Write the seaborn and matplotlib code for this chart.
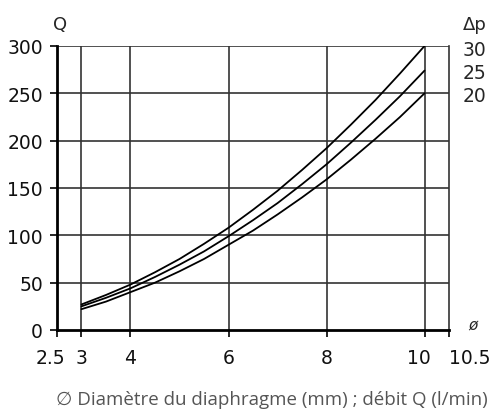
import pandas as pd
import matplotlib.pyplot as plt
import matplotlib.transforms as mtransforms
import seaborn as sns

diameter = [3, 3.5, 4, 4.5, 5, 5.5, 6, 6.5, 7, 7.5, 8, 8.5, 9, 9.5, 10]
q_dp30 = [27, 37, 48, 61, 75, 91, 108, 127, 147, 169, 192, 217, 243, 271, 300]
q_dp25 = [25, 34, 44, 56, 69, 83, 99, 116, 134, 154, 175, 198, 222, 247, 274]
q_dp20 = [22, 30, 40, 50, 62, 75, 90, 105, 122, 140, 159, 180, 202, 225, 250]
pressures = ['30', '25', '20']
x_ticks = [2.5, 3, 4, 6, 8, 10, 10.5]
y_ticks = [0, 50, 100, 150, 200, 250, 300]

df = pd.DataFrame({
    'd': diameter * 3,
    'Q': q_dp30 + q_dp25 + q_dp20,
    'dp': ['30'] * len(diameter) + ['25'] * len(diameter) + ['20'] * len(diameter),
})

sns.set_theme(style="white")
plt.rcParams['font.family'] = ['DejaVu Sans']

fig = plt.figure(figsize=(4.93, 4.10), dpi=100)
ax = fig.add_axes([0.1156, 0.1927, 0.7952, 0.6927])

sns.lineplot(data=df, x='d', y='Q', hue='dp', palette=['black'] * 3,
             legend=False, linewidth=1.3, ax=ax, sort=False)

ax.set_xlim(2.5, 10.5)
ax.set_ylim(0, 300)
ax.set_xticks(x_ticks)
ax.set_xticklabels(['2.5', '3', '4', '6', '8', '10', '10.5'])
ax.set_yticks(y_ticks)
ax.set_xlabel('')
ax.set_ylabel('')

# grid only at the inner diameters
for x in x_ticks[1:-1]:
    ax.axvline(x, color='#333333', lw=1.2, zorder=0)
for y in y_ticks[1:]:
    ax.axhline(y, color='#333333', lw=1.2, zorder=0)

for side in ['left', 'bottom']:
    ax.spines[side].set_color('black')
    ax.spines[side].set_linewidth(2)
ax.spines['right'].set_color('#333333')
ax.spines['right'].set_linewidth(1.2)
ax.spines['top'].set_visible(False)

ax.tick_params(axis='both', which='both', direction='out', length=5, width=1.2,
               color='black', labelsize=13.5, labelcolor='#111111',
               bottom=True, left=True)
ax.tick_params(axis='x', pad=8)
ax.tick_params(axis='y', pad=5)

# nudge the crowded end labels like in the original
labels = ax.get_xticklabels()
shift_left = mtransforms.ScaledTranslation(-7 / 100, 0, fig.dpi_scale_trans)
labels[0].set_transform(labels[0].get_transform() + shift_left)
labels[-2].set_transform(labels[-2].get_transform() + mtransforms.ScaledTranslation(-6 / 100, 0, fig.dpi_scale_trans))
labels[-1].set_horizontalalignment('left')

ax.text(-0.01, 1.045, 'Q', transform=ax.transAxes, fontsize=13, ha='left', va='bottom')
ax.text(1.035, 1.045, 'Δp', transform=ax.transAxes, fontsize=13, ha='left', va='bottom')
trans = mtransforms.blended_transform_factory(ax.transAxes, ax.transData)
ends = [q_dp30[-1] - 4, q_dp25[-1] - 2, q_dp20[-1] - 2]
for p, yv in zip(pressures, ends):
    ax.text(1.035, yv, p, transform=trans, fontsize=13.5, ha='left', va='center')
ax.text(1.05, 0.02, 'ø', transform=ax.transAxes, fontsize=11, ha='left',
        va='center', style='italic')

fig.text(0.552, 0.025, '∅ Diamètre du diaphragme (mm) ; débit Q (l/min)',
         ha='center', va='center', fontsize=13.5, color='#555555',
         family=['Open Sans', 'DejaVu Sans'])

fig.savefig('out.png', dpi=100)
